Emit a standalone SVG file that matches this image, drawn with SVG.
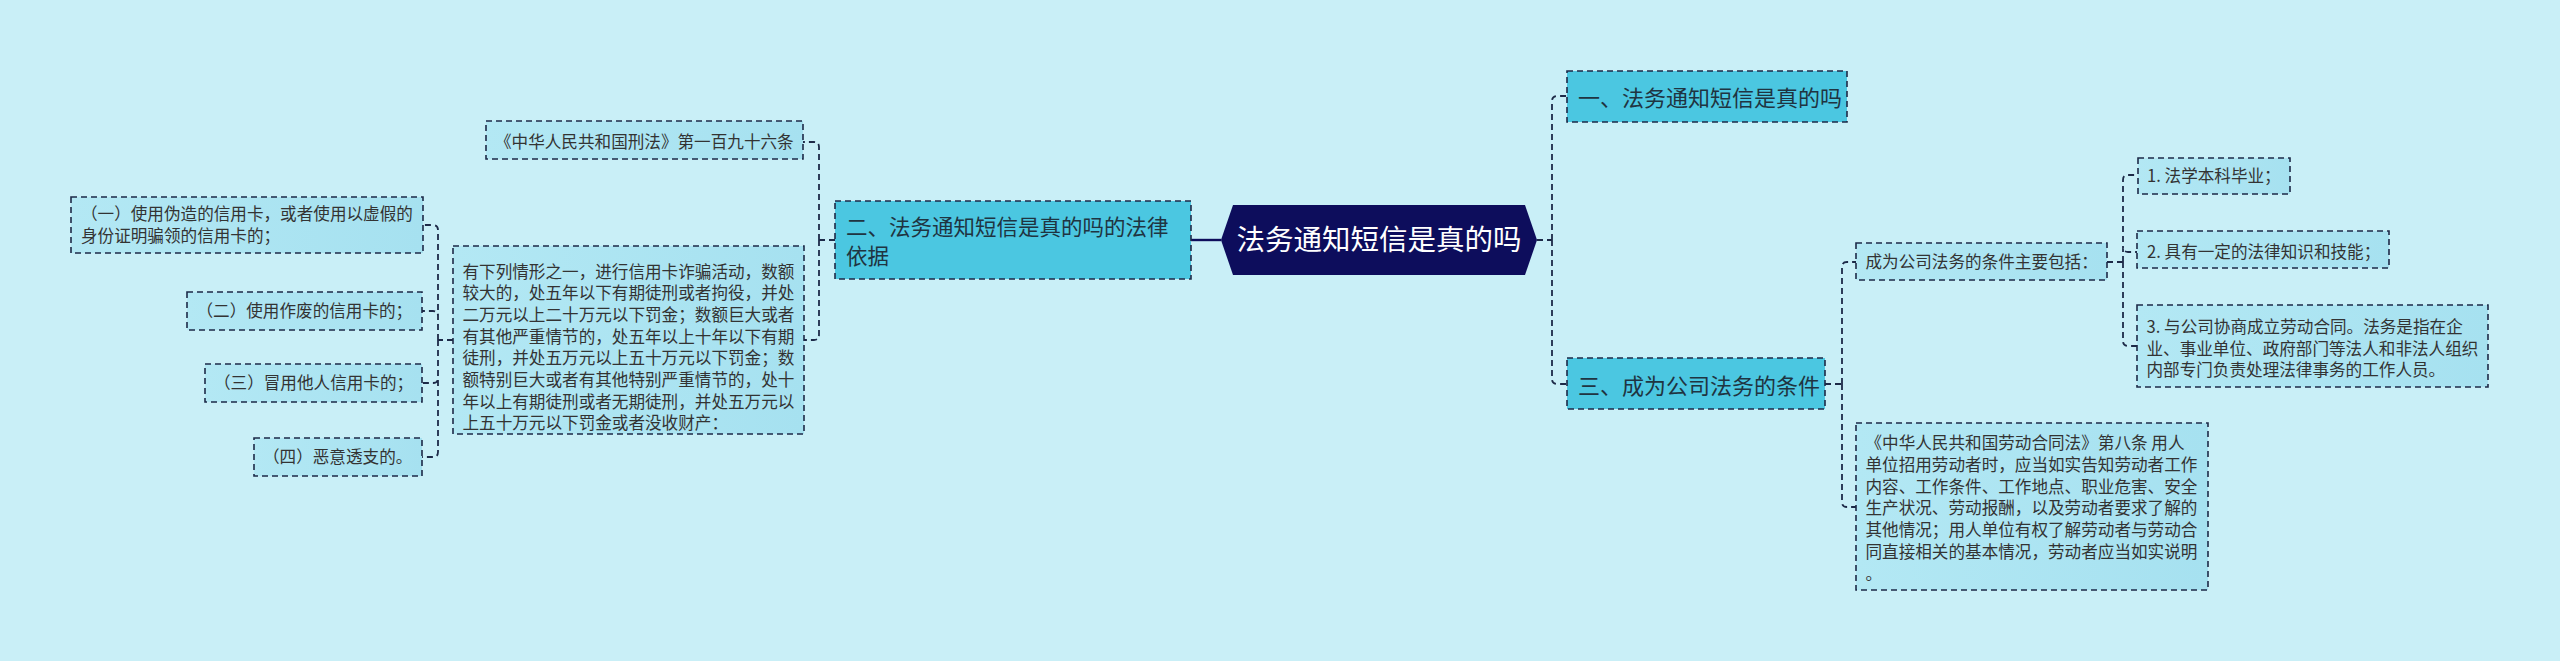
<svg xmlns="http://www.w3.org/2000/svg" width="2560" height="661" viewBox="0 0 2560 661">
<defs>
<linearGradient id="leafGrad" x1="0" y1="0" x2="1" y2="0">
<stop offset="0" stop-color="#b3e8f4"/>
<stop offset="1" stop-color="#a6e1f0"/>
</linearGradient>
<style>
.bg{fill:#c9eff7}
.leaf{fill:url(#leafGrad);stroke:#1d2a48;stroke-width:1.6;stroke-dasharray:6 4}
.l1{fill:#4bc7e1;stroke:#1d2a48;stroke-width:1.6;stroke-dasharray:6 4}
.t{font-family:"Noto Sans CJK SC","Noto Sans",sans-serif;font-size:16.6px;fill:#333333}
.t1{font-family:"Noto Sans CJK SC","Noto Sans",sans-serif;font-size:22px;fill:#1f3441}
.t2{font-family:"Noto Sans CJK SC","Noto Sans",sans-serif;font-size:21.5px;fill:#1f3441}
.tr{font-family:"Noto Sans CJK SC","Noto Sans",sans-serif;font-size:28.5px;fill:#ffffff}
.c{fill:none;stroke:#1d2a48;stroke-width:1.8;stroke-dasharray:6 4}
.cs{fill:none;stroke:#0d0d5c;stroke-width:2.4}
</style>
</defs>
<rect class="bg" x="0" y="0" width="2560" height="661"/>

<g id="connectors">
<path class="cs" d="M1221,240 H1191"/>
<path class="c" d="M1537,240 H1552 M1552,240 V101 Q1552,96 1557,96 H1567 M1552,240 V379 Q1552,384 1557,384 H1567"/>
<path class="c" d="M835,240 H819 M819,240 V147 Q819,142 814,142 H803 M819,240 V335 Q819,340 814,340 H804"/>
<path class="c" d="M453,340 H438 M438,340 V230 Q438,225 433,225 H423 M438,340 V316 Q438,311 433,311 H422 M438,340 V378 Q438,383 433,383 H422 M438,340 V452 Q438,457 433,457 H422"/>
<path class="c" d="M1825,384 H1842 M1842,384 V267 Q1842,262 1847,262 H1856 M1842,384 V502 Q1842,507 1847,507 H1856"/>
<path class="c" d="M2107,262 H2123 M2123,262 V180 Q2123,175 2128,175 H2138 M2123,262 V247 Q2123,252 2128,252 H2137 M2123,262 V341 Q2123,346 2128,346 H2137"/>
</g>

<g id="root">
<polygon points="1221,240 1233,205 1525,205 1537,240 1525,275 1233,275" fill="#0d0d5c"/>
<text class="tr" x="1379" y="250" text-anchor="middle">法务通知短信是真的吗</text>
</g>

<g id="n1">
<rect class="l1" x="1567" y="71" width="280" height="51"/>
<text class="t1" x="1578" y="105.5">一、法务通知短信是真的吗</text>
</g>

<g id="n2">
<rect class="l1" x="835" y="201" width="356" height="78"/>
<text class="t2" x="846" y="235">二、法务通知短信是真的吗的法律</text>
<text class="t2" x="846" y="264">依据</text>
</g>

<g id="n3">
<rect class="l1" x="1567" y="358" width="258" height="51"/>
<text class="t1" x="1578" y="393.5">三、成为公司法务的条件</text>
</g>

<g id="n2a">
<rect class="leaf" x="486" y="121" width="317" height="38"/>
<text class="t" x="495" y="148">《中华人民共和国刑法》第一百九十六条</text>
</g>

<g id="n2b">
<rect class="leaf" x="453" y="246" width="351" height="188"/>
<text class="t" x="462.5" y="277.5">有下列情形之一，进行信用卡诈骗活动，数额</text>
<text class="t" x="462.5" y="299.2">较大的，处五年以下有期徒刑或者拘役，并处</text>
<text class="t" x="462.5" y="320.9">二万元以上二十万元以下罚金；数额巨大或者</text>
<text class="t" x="462.5" y="342.6">有其他严重情节的，处五年以上十年以下有期</text>
<text class="t" x="462.5" y="364.3">徒刑，并处五万元以上五十万元以下罚金；数</text>
<text class="t" x="462.5" y="386">额特别巨大或者有其他特别严重情节的，处十</text>
<text class="t" x="462.5" y="407.7">年以上有期徒刑或者无期徒刑，并处五万元以</text>
<text class="t" x="462.5" y="429.4">上五十万元以下罚金或者没收财产：</text>
</g>

<g id="n2b1">
<rect class="leaf" x="71" y="197" width="352" height="56"/>
<text class="t" x="81" y="220.3">（一）使用伪造的信用卡，或者使用以虚假的</text>
<text class="t" x="81" y="241.5">身份证明骗领的信用卡的；</text>
</g>

<g id="n2b2">
<rect class="leaf" x="187" y="292" width="235" height="38"/>
<text class="t" x="196.5" y="317">（二）使用作废的信用卡的；</text>
</g>

<g id="n2b3">
<rect class="leaf" x="205" y="364" width="217" height="38"/>
<text class="t" x="214" y="389">（三）冒用他人信用卡的；</text>
</g>

<g id="n2b4">
<rect class="leaf" x="254" y="438" width="168" height="38"/>
<text class="t" x="263" y="463">（四）恶意透支的。</text>
</g>

<g id="n3a">
<rect class="leaf" x="1856" y="243" width="251" height="37"/>
<text class="t" x="1865.5" y="268">成为公司法务的条件主要包括：</text>
</g>

<g id="n3a1">
<rect class="leaf" x="2138" y="158" width="152" height="36"/>
<text class="t" x="2147" y="181.5">1. 法学本科毕业；</text>
</g>

<g id="n3a2">
<rect class="leaf" x="2137" y="231" width="252" height="37"/>
<text class="t" x="2147" y="258">2. 具有一定的法律知识和技能；</text>
</g>

<g id="n3a3">
<rect class="leaf" x="2137" y="305" width="351" height="82"/>
<text class="t" x="2146.5" y="333">3. 与公司协商成立劳动合同。法务是指在企</text>
<text class="t" x="2146.5" y="354.7">业、事业单位、政府部门等法人和非法人组织</text>
<text class="t" x="2146.5" y="376.4">内部专门负责处理法律事务的工作人员。</text>
</g>

<g id="n3b">
<rect class="leaf" x="1856" y="423" width="352" height="167"/>
<text class="t" x="1865.5" y="449.3">《中华人民共和国劳动合同法》第八条 用人</text>
<text class="t" x="1865.5" y="471">单位招用劳动者时，应当如实告知劳动者工作</text>
<text class="t" x="1865.5" y="492.7">内容、工作条件、工作地点、职业危害、安全</text>
<text class="t" x="1865.5" y="514.4">生产状况、劳动报酬，以及劳动者要求了解的</text>
<text class="t" x="1865.5" y="536.1">其他情况；用人单位有权了解劳动者与劳动合</text>
<text class="t" x="1865.5" y="557.8">同直接相关的基本情况，劳动者应当如实说明</text>
<text class="t" x="1865.5" y="579.5">。</text>
</g>
</svg>
